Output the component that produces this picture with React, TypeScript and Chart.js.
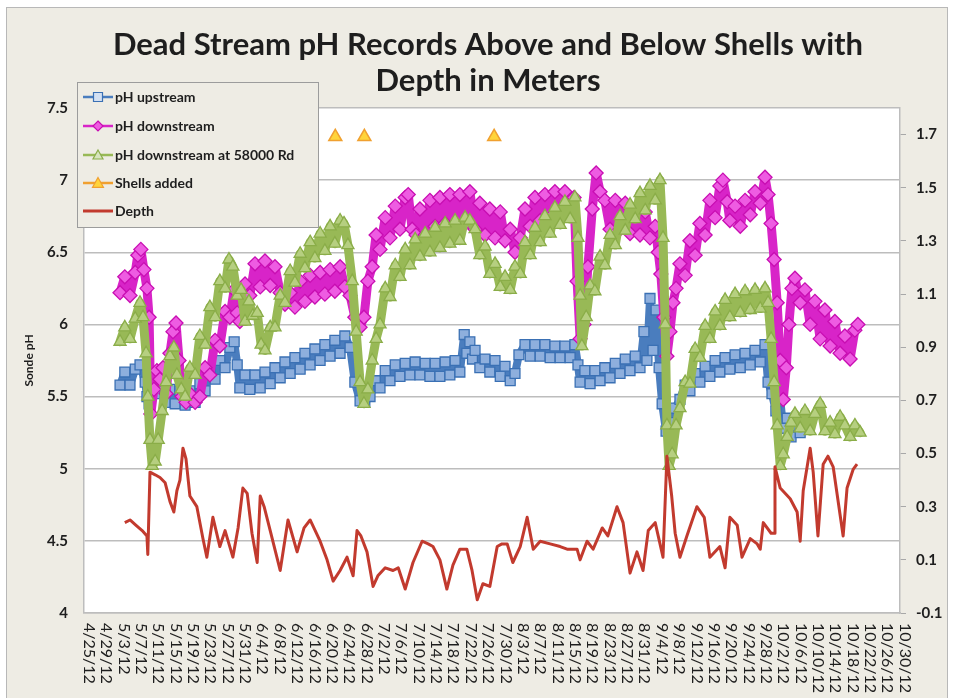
import React, { useEffect, useRef } from 'react';
import { Chart, registerables } from 'chart.js';
Chart.register(...registerables);

// ---------- DATA ----------
const xTickLabels = ['4/25/12','4/29/12','5/3/12','5/7/12','5/11/12','5/15/12','5/19/12','5/23/12','5/27/12','5/31/12','6/4/12','6/8/12','6/12/12','6/16/12','6/20/12','6/24/12','6/28/12','7/2/12','7/6/12','7/10/12','7/14/12','7/18/12','7/22/12','7/26/12','7/30/12','8/3/12','8/7/12','8/11/12','8/15/12','8/19/12','8/23/12','8/27/12','8/31/12','9/4/12','9/8/12','9/12/12','9/16/12','9/20/12','9/24/12','9/28/12','10/2/12','10/6/12','10/10/12','10/14/12','10/18/12','10/22/12','10/26/12','10/30/12'];
const depthTicks = [-0.1, 0.1, 0.3, 0.5, 0.7, 0.9, 1.1, 1.3, 1.5, 1.7];

// [days since 4/25/12, pH] — values alternate between the upper and lower edge of the daily band
const upstream: [number, number][] = [[8.3,5.58],[9.4,5.67],[10.6,5.58],[11.8,5.69],[12.9,5.72],[14.1,5.60],[14.5,5.50],[15.0,5.45],[15.7,5.64],[16.4,5.52],[17.5,5.58],[18.7,5.46],[19.8,5.55],[21.0,5.45],[22.1,5.54],[23.3,5.44],[24.4,5.54],[25.6,5.46],[26.7,5.59],[27.9,5.54],[29.0,5.67],[30.2,5.62],[31.3,5.75],[32.5,5.70],[33.6,5.84],[34.6,5.88],[35.3,5.72],[35.9,5.56],[37.1,5.65],[38.2,5.55],[39.4,5.65],[40.6,5.56],[41.7,5.67],[42.9,5.59],[44.0,5.70],[45.2,5.63],[46.3,5.74],[47.5,5.66],[48.6,5.77],[49.8,5.69],[50.9,5.80],[52.1,5.72],[53.2,5.83],[54.4,5.75],[55.5,5.86],[56.7,5.78],[57.8,5.89],[59.0,5.80],[60.1,5.92],[61.3,5.84],[62.4,5.60],[63.6,5.47],[64.7,5.46],[65.9,5.50],[67.1,5.61],[68.2,5.56],[69.4,5.68],[70.5,5.61],[71.7,5.72],[72.8,5.64],[74.0,5.73],[75.1,5.65],[76.3,5.74],[77.4,5.65],[78.6,5.73],[79.7,5.64],[80.9,5.73],[82.0,5.64],[83.2,5.74],[84.3,5.65],[85.5,5.75],[86.6,5.67],[87.6,5.93],[88.2,5.80],[88.9,5.88],[89.5,5.76],[90.1,5.82],[91.2,5.70],[92.4,5.76],[93.5,5.67],[94.7,5.75],[95.9,5.64],[97.0,5.71],[98.2,5.61],[99.3,5.66],[100.2,5.79],[101.6,5.86],[102.8,5.78],[103.9,5.86],[105.1,5.78],[106.2,5.86],[107.4,5.77],[108.5,5.85],[109.7,5.77],[110.8,5.85],[112.0,5.77],[113.1,5.86],[113.8,5.72],[114.3,5.60],[115.4,5.68],[116.6,5.59],[117.7,5.68],[118.9,5.61],[120.0,5.70],[121.2,5.63],[122.4,5.73],[123.5,5.66],[124.7,5.76],[125.8,5.68],[127.0,5.78],[128.1,5.70],[129.0,5.95],[129.7,5.75],[130.4,6.18],[131.1,5.82],[131.8,6.10],[132.5,5.70],[133.2,5.45],[134.1,5.26],[135.0,5.32],[136.2,5.42],[137.3,5.48],[138.5,5.58],[139.6,5.54],[140.8,5.66],[141.9,5.60],[143.1,5.71],[144.2,5.64],[145.4,5.75],[146.5,5.67],[147.7,5.77],[148.8,5.69],[150.0,5.79],[151.2,5.70],[152.3,5.80],[153.5,5.72],[154.6,5.82],[155.8,5.74],[156.9,5.86],[157.6,5.60],[158.5,5.52],[159.4,5.40],[160.4,5.48],[161.1,5.28],[162.0,5.35],[162.9,5.22],[163.8,5.30],[165.0,5.25]];

const downstream: [number, number][] = [[8.3,6.22],[9.4,6.33],[10.6,6.20],[11.8,6.36],[12.4,6.48],[13.1,6.52],[13.8,6.38],[14.5,6.25],[15.0,6.05],[15.4,5.38],[16.1,5.55],[16.8,5.68],[17.5,5.62],[18.2,5.70],[18.9,5.52],[19.8,5.80],[20.5,5.95],[21.2,6.01],[21.9,5.75],[22.6,5.50],[23.5,5.46],[24.4,5.52],[25.6,5.46],[26.7,5.50],[27.9,5.70],[29.0,5.65],[30.2,5.89],[31.3,5.85],[32.5,6.09],[33.6,6.05],[34.6,6.24],[35.3,6.08],[35.9,6.02],[37.1,6.28],[38.2,6.20],[39.4,6.42],[40.6,6.26],[41.7,6.44],[42.9,6.27],[44.0,6.40],[45.2,6.22],[46.3,6.14],[47.5,6.22],[48.6,6.12],[49.8,6.30],[50.9,6.16],[52.1,6.34],[53.2,6.19],[54.4,6.36],[55.5,6.21],[56.7,6.38],[57.8,6.23],[59.0,6.40],[60.1,6.26],[61.3,6.20],[62.4,6.05],[63.6,5.98],[64.5,6.05],[65.4,6.30],[66.4,6.40],[67.3,6.62],[68.2,6.52],[69.4,6.74],[70.5,6.60],[71.7,6.82],[72.8,6.66],[74.0,6.88],[74.7,6.90],[75.6,6.66],[76.5,6.62],[77.4,6.80],[78.6,6.62],[79.7,6.86],[80.9,6.68],[82.0,6.88],[83.2,6.70],[84.3,6.90],[85.5,6.70],[86.6,6.90],[87.8,6.70],[88.9,6.92],[90.1,6.66],[91.2,6.84],[92.4,6.62],[93.5,6.80],[94.7,6.60],[95.9,6.78],[97.0,6.58],[98.2,6.66],[99.3,6.50],[100.5,6.60],[101.6,6.80],[102.8,6.68],[103.9,6.88],[105.1,6.72],[106.2,6.90],[107.4,6.74],[108.5,6.92],[109.7,6.76],[110.8,6.92],[112.0,6.76],[112.9,6.88],[113.6,6.30],[114.3,5.90],[115.2,6.00],[116.1,6.40],[117.1,6.80],[118.0,7.05],[118.9,6.92],[120.0,6.86],[121.2,6.66],[122.4,6.86],[123.5,6.66],[124.7,6.84],[125.8,6.63],[127.0,6.80],[128.1,6.62],[129.3,6.78],[130.4,6.60],[131.6,6.68],[132.3,6.50],[132.9,6.35],[133.6,6.05],[134.3,5.78],[135.0,5.95],[135.7,6.15],[136.4,6.25],[137.3,6.42],[138.5,6.34],[139.6,6.58],[140.8,6.48],[141.9,6.70],[143.1,6.62],[144.2,6.86],[145.4,6.74],[146.5,6.96],[147.2,7.00],[148.2,6.85],[148.8,6.72],[150.0,6.82],[151.2,6.68],[152.3,6.86],[153.5,6.76],[154.6,6.92],[155.8,6.84],[156.9,7.02],[157.6,6.90],[158.3,6.70],[159.0,6.45],[159.7,6.15],[160.4,5.75],[161.1,5.48],[161.8,5.70],[162.4,6.00],[163.1,6.25],[163.8,6.32],[165.0,6.15],[166.1,6.24],[167.3,6.00],[168.4,6.16],[169.6,5.90],[170.7,6.10],[171.9,5.85],[173.0,6.02],[174.2,5.80],[175.3,5.92],[176.5,5.76],[177.6,5.96],[178.3,6.00]];

const downstream58000: [number, number][] = [[8.3,5.88],[9.4,5.98],[10.6,5.90],[11.8,6.04],[12.9,6.15],[13.6,6.05],[14.3,5.80],[14.7,5.50],[15.2,5.20],[15.7,5.02],[16.4,5.05],[17.1,5.20],[18.0,5.40],[18.9,5.60],[19.8,5.78],[20.7,5.84],[21.4,5.65],[22.4,5.55],[23.3,5.50],[24.4,5.70],[25.6,5.65],[26.7,5.92],[27.9,5.86],[29.0,6.12],[30.2,6.05],[31.3,6.30],[32.5,6.25],[33.4,6.45],[34.3,6.40],[35.3,6.20],[36.2,6.24],[37.1,6.02],[38.0,6.16],[38.9,6.06],[39.9,6.08],[40.8,5.86],[41.7,5.82],[42.9,5.98],[44.0,5.98],[45.2,6.20],[46.3,6.15],[47.5,6.37],[48.6,6.29],[49.8,6.49],[50.9,6.39],[52.1,6.57],[53.2,6.46],[54.4,6.63],[55.5,6.51],[56.7,6.68],[57.8,6.56],[59.0,6.72],[59.9,6.70],[60.8,6.55],[61.8,6.30],[62.7,5.95],[63.6,5.60],[64.5,5.45],[65.4,5.55],[66.4,5.75],[67.3,5.90],[68.2,6.00],[69.4,6.25],[70.5,6.19],[71.7,6.41],[72.8,6.33],[74.0,6.52],[75.1,6.41],[76.3,6.59],[77.4,6.47],[78.6,6.63],[79.7,6.50],[80.9,6.67],[82.0,6.53],[83.2,6.70],[84.3,6.56],[85.5,6.72],[86.6,6.58],[87.8,6.74],[88.9,6.72],[90.1,6.66],[91.2,6.48],[92.4,6.54],[93.5,6.35],[94.7,6.42],[95.9,6.26],[97.0,6.33],[98.2,6.24],[99.3,6.40],[100.5,6.35],[101.6,6.57],[102.8,6.48],[103.9,6.67],[105.1,6.57],[106.2,6.75],[107.4,6.63],[108.5,6.81],[109.7,6.69],[110.8,6.85],[112.0,6.73],[113.1,6.88],[113.8,6.60],[114.3,6.20],[114.7,5.85],[115.7,6.05],[116.6,6.27],[117.7,6.23],[118.9,6.47],[120.0,6.41],[121.2,6.62],[122.4,6.55],[123.5,6.75],[124.7,6.65],[125.8,6.83],[127.0,6.73],[128.1,6.91],[129.3,6.79],[130.4,6.96],[131.6,6.86],[132.7,7.00],[133.4,6.60],[133.9,6.00],[134.3,5.30],[134.8,5.02],[135.5,5.10],[136.4,5.30],[137.3,5.42],[138.5,5.60],[139.6,5.59],[140.8,5.83],[141.9,5.77],[143.1,5.99],[144.2,5.90],[145.4,6.09],[146.5,5.99],[147.7,6.17],[148.8,6.05],[150.0,6.21],[151.2,6.08],[152.3,6.23],[153.5,6.10],[154.6,6.24],[155.8,6.11],[156.9,6.25],[157.6,6.15],[158.3,5.90],[159.0,5.60],[159.7,5.30],[160.4,5.02],[161.1,5.10],[162.0,5.22],[162.9,5.32],[163.8,5.38],[165.0,5.28],[166.1,5.40],[167.3,5.26],[168.4,5.38],[169.6,5.45],[170.7,5.26],[171.9,5.32],[173.0,5.24],[174.2,5.36],[175.3,5.30],[176.5,5.22],[177.6,5.30],[178.8,5.25]];

const shellsAdded: [number, number][] = [[57.9,7.3],[64.6,7.3],[94.5,7.3]];

// [days since 4/25/12, depth in meters]
const depth: [number, number][] = [[9.4,0.24],[10.6,0.25],[12.0,0.23],[13.4,0.21],[14.5,0.19],[14.7,0.12],[15.2,0.43],[16.4,0.42],[17.5,0.41],[18.7,0.39],[19.8,0.32],[20.7,0.28],[21.4,0.36],[22.1,0.40],[22.8,0.52],[23.5,0.48],[24.4,0.34],[26.0,0.30],[27.4,0.18],[28.3,0.11],[29.7,0.26],[31.3,0.15],[32.5,0.21],[34.3,0.11],[35.5,0.22],[36.6,0.37],[37.6,0.35],[38.7,0.20],[39.9,0.09],[40.6,0.34],[41.5,0.30],[42.9,0.21],[45.2,0.06],[47.0,0.25],[49.1,0.13],[50.7,0.22],[52.1,0.25],[54.4,0.17],[56.0,0.10],[57.4,0.02],[59.0,0.06],[60.6,0.11],[62.0,0.04],[62.9,0.21],[63.8,0.19],[65.2,0.13],[66.6,0.00],[67.7,0.04],[69.4,0.07],[71.2,0.06],[72.4,0.07],[74.0,-0.01],[75.8,0.09],[77.9,0.17],[79.3,0.16],[80.4,0.15],[82.0,0.10],[83.6,-0.01],[85.0,0.08],[86.6,0.14],[88.2,0.14],[89.4,0.06],[90.6,-0.05],[91.9,0.01],[93.5,0.00],[95.2,0.15],[96.3,0.16],[97.5,0.16],[98.8,0.09],[100.5,0.15],[102.1,0.26],[103.5,0.14],[105.1,0.17],[107.4,0.16],[109.7,0.15],[111.3,0.14],[113.6,0.14],[114.3,0.10],[115.9,0.17],[117.3,0.14],[119.4,0.22],[120.7,0.19],[122.8,0.30],[124.2,0.24],[125.8,0.05],[127.4,0.13],[128.8,0.06],[130.0,0.21],[131.6,0.24],[133.4,0.11],[134.3,0.49],[135.4,0.34],[136.2,0.20],[137.3,0.11],[138.9,0.19],[141.2,0.30],[142.9,0.26],[144.2,0.11],[146.5,0.15],[147.7,0.07],[148.8,0.26],[150.5,0.23],[151.6,0.11],[153.5,0.18],[155.1,0.16],[155.8,0.14],[156.5,0.24],[158.3,0.20],[159.0,0.20],[159.2,0.45],[160.4,0.37],[162.7,0.33],[164.3,0.28],[165.0,0.17],[165.7,0.36],[167.3,0.52],[168.0,0.43],[169.1,0.19],[170.3,0.46],[171.4,0.49],[172.6,0.45],[174.9,0.19],[175.8,0.37],[177.2,0.44],[178.1,0.46]];

const titleLines = ['Dead Stream pH Records Above and Below Shells with', 'Depth in Meters'];
const legendItems = ['pH upstream', 'pH downstream', 'pH downstream at 58000 Rd', 'Shells added', 'Depth'];

// ---------- STYLE ----------
const BG = '#EEECE4';
const FONT = 'Lato, "Liberation Sans", sans-serif';
const TEXT = '#1E1E1E';
const GRID = '#BDBDBD';
const C = {
  blueLine: '#4A7DBE', blueBorder: '#3A70B4', blueFill: '#8EAFDD', blueLegendFill: '#D3E0F2',
  magLine: '#D824C8', magBorder: '#C80EB2', magFill: '#EE5CE2',
  greenLine: '#98B956', greenBorder: '#8AAD48', greenFill: '#B6CF80', greenLegendFill: '#D7E4BD',
  shellBorder: '#F0A030', shellFill: '#FFD43A',
  depth: '#C23A2E',
};

const toXY = (arr: [number, number][]) => arr.map(([x, y]) => ({ x, y }));

function drawSquare(ctx: CanvasRenderingContext2D, x: number, y: number, s: number) {
  ctx.beginPath(); ctx.rect(x - s, y - s, 2 * s, 2 * s); ctx.fill(); ctx.stroke();
}
function drawDiamond(ctx: CanvasRenderingContext2D, x: number, y: number, s: number) {
  ctx.beginPath(); ctx.moveTo(x, y - s); ctx.lineTo(x + s, y); ctx.lineTo(x, y + s); ctx.lineTo(x - s, y); ctx.closePath(); ctx.fill(); ctx.stroke();
}
function drawTriangle(ctx: CanvasRenderingContext2D, x: number, y: number, s: number) {
  ctx.beginPath(); ctx.moveTo(x, y - s); ctx.lineTo(x + s, y + s * 0.8); ctx.lineTo(x - s, y + s * 0.8); ctx.closePath(); ctx.fill(); ctx.stroke();
}

const decorPlugin = {
  id: 'decor',
  beforeDraw(chart: any) {
    const { ctx, chartArea: a, width, height } = chart;
    ctx.save();
    ctx.fillStyle = '#FFFFFF';
    ctx.fillRect(0, 0, width, height);
    ctx.fillStyle = BG;
    ctx.fillRect(6, 7, width - 12, height - 7);
    ctx.strokeStyle = '#B8B8B8';
    ctx.lineWidth = 1;
    ctx.strokeRect(6.5, 7.5, width - 13, height);
    ctx.fillStyle = '#FFFFFF';
    ctx.fillRect(a.left, a.top, a.right - a.left, a.bottom - a.top);
    ctx.restore();
  },
  afterDraw(chart: any) {
    const { ctx, chartArea: a } = chart;
    ctx.save();
    // Title
    ctx.fillStyle = TEXT;
    ctx.font = `bold 31px ${FONT}`;
    ctx.textAlign = 'center';
    ctx.textBaseline = 'middle';
    ctx.fillText(titleLines[0], 488, 45);
    ctx.fillText(titleLines[1], 488, 81);

    // X tick labels, rotated clockwise (read top to bottom)
    const xs = chart.scales.x;
    ctx.font = `16px ${FONT}`;
    ctx.textAlign = 'left';
    ctx.textBaseline = 'middle';
    xs.ticks.forEach((t: any, i: number) => {
      const label = xTickLabels[i];
      if (!label) return;
      const px = xs.getPixelForValue(t.value) + 5;
      ctx.save();
      ctx.translate(px, a.bottom + 10);
      ctx.rotate(Math.PI / 2);
      ctx.fillText(label, 0, 0);
      ctx.restore();
    });

    // Legend
    const lx = 77, ly = 82, lw = 241, lh = 145;
    ctx.fillStyle = BG;
    ctx.fillRect(lx, ly, lw, lh);
    ctx.strokeStyle = '#9C9C9C';
    ctx.lineWidth = 1;
    ctx.strokeRect(lx + 0.5, ly + 0.5, lw, lh);
    const rows = [97, 126, 155, 183, 211];
    const lineCols = [C.blueLine, C.magLine, C.greenLine, C.shellBorder, C.depth];
    rows.forEach((ry, i) => {
      ctx.strokeStyle = lineCols[i];
      ctx.lineWidth = i === 4 ? 3 : 2.5;
      ctx.beginPath(); ctx.moveTo(83, ry); ctx.lineTo(113, ry); ctx.stroke();
      ctx.lineWidth = 1.2;
      if (i === 0) { ctx.fillStyle = C.blueLegendFill; ctx.strokeStyle = C.blueBorder; drawSquare(ctx, 98, ry, 4.5); }
      if (i === 1) { ctx.fillStyle = C.magFill; ctx.strokeStyle = C.magBorder; drawDiamond(ctx, 98, ry, 5); }
      if (i === 2) { ctx.fillStyle = C.greenLegendFill; ctx.strokeStyle = C.greenBorder; drawTriangle(ctx, 98, ry, 5); }
      if (i === 3) { ctx.fillStyle = C.shellFill; ctx.strokeStyle = C.shellBorder; drawTriangle(ctx, 98, ry, 5.5); }
      ctx.fillStyle = TEXT;
      ctx.font = `bold 14px ${FONT}`;
      ctx.textAlign = 'left';
      ctx.textBaseline = 'middle';
      ctx.fillText(legendItems[i], 115, ry);
    });
    ctx.restore();
  },
};

export default function App() {
  const ref = useRef<HTMLCanvasElement>(null);
  useEffect(() => {
    document.body.style.margin = '0';
    const canvas = ref.current;
    if (!canvas) return;
    const tickFont = { family: FONT, size: 15, weight: 'bold' as const };
    const bandLine = { borderJoinStyle: 'round', borderCapStyle: 'round' };
    const chart = new Chart(canvas, {
      type: 'line',
      data: {
        datasets: [
          {
            label: legendItems[0], data: toXY(upstream), yAxisID: 'y', order: 5, ...bandLine, borderWidth: 8,
            borderColor: C.blueLine, backgroundColor: C.blueFill,
            pointStyle: 'rect', pointRadius: 7, pointBorderWidth: 1.3,
            pointBackgroundColor: C.blueFill, pointBorderColor: C.blueBorder,
          },
          {
            label: legendItems[1], data: toXY(downstream), yAxisID: 'y', order: 4, ...bandLine, borderWidth: 9,
            borderColor: C.magLine, backgroundColor: C.magFill,
            pointStyle: 'rectRot', pointRadius: 7, pointBorderWidth: 1.3,
            pointBackgroundColor: C.magFill, pointBorderColor: C.magBorder,
          },
          {
            label: legendItems[2], data: toXY(downstream58000), yAxisID: 'y', order: 3, ...bandLine, borderWidth: 9,
            borderColor: C.greenLine, backgroundColor: C.greenFill,
            pointStyle: 'triangle', pointRadius: 7, pointBorderWidth: 1.3,
            pointBackgroundColor: C.greenFill, pointBorderColor: C.greenBorder,
          },
          {
            label: legendItems[3], data: toXY(shellsAdded), yAxisID: 'y', order: 2,
            showLine: false, borderColor: C.shellBorder, backgroundColor: C.shellFill,
            pointStyle: 'triangle', pointRadius: 7.5, pointBorderWidth: 1.5,
            pointBackgroundColor: C.shellFill, pointBorderColor: C.shellBorder,
          },
          {
            label: legendItems[4], data: toXY(depth), yAxisID: 'y1', order: 1,
            borderColor: C.depth, borderWidth: 3, pointRadius: 0, tension: 0,
            borderJoinStyle: 'round',
          },
        ],
      },
      options: {
        responsive: false,
        animation: false,
        layout: { padding: { left: 0, right: 0, top: 108, bottom: 85 } },
        plugins: { legend: { display: false }, title: { display: false }, tooltip: { enabled: false } },
        scales: {
          x: {
            type: 'linear', min: 0, max: 188,
            ticks: { stepSize: 4, display: false },
            grid: { display: false, drawTicks: false },
            border: { display: true, color: GRID, width: 1.5 },
            afterFit: (s: any) => { s.height = 0; },
          },
          y: {
            position: 'left', min: 4, max: 7.5,
            ticks: { stepSize: 0.5, font: tickFont, color: TEXT, padding: 16, callback: (v: any) => String(Number(v)) },
            grid: { color: GRID, lineWidth: 1.5, drawTicks: false },
            border: { display: true, color: GRID, width: 1.5 },
            title: { display: true, text: 'Sonde pH', color: TEXT, font: { family: FONT, size: 12, weight: 'bold' }, padding: { top: 22, bottom: 0 } },
            afterFit: (s: any) => { s.width = 84; },
          },
          y1: {
            position: 'right', min: -0.1, max: 1.8,
            afterBuildTicks: (s: any) => { s.ticks = depthTicks.map((v) => ({ value: v })); },
            ticks: { font: tickFont, color: TEXT, padding: 10, callback: (v: any) => Number(v).toFixed(1) },
            grid: { drawOnChartArea: false, drawTicks: true, tickLength: 6, color: '#A8A8A8' },
            border: { display: true, color: GRID, width: 1.5 },
            afterFit: (s: any) => { s.width = 54; },
          },
        },
      },
      plugins: [decorPlugin],
    } as any);
    return () => chart.destroy();
  }, []);
  return (
    <div style={{ width: 954, height: 698 }}>
      <canvas ref={ref} width={954} height={698} style={{ display: 'block' }} />
    </div>
  );
}
